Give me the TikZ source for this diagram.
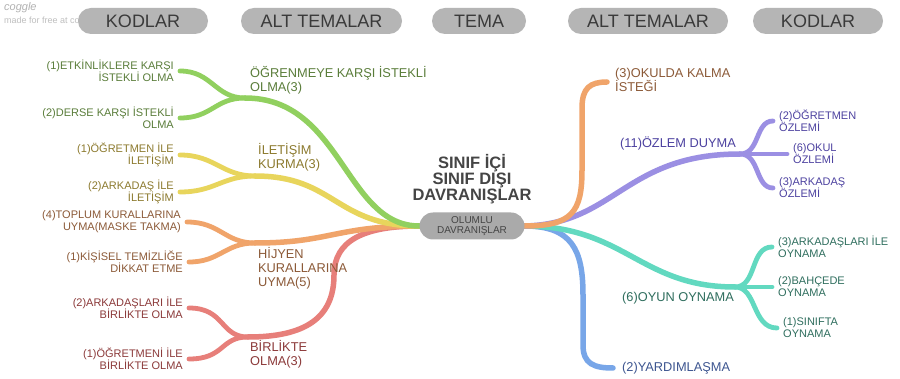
\documentclass[tikz,border=0pt]{standalone}
\usepackage{fontspec}
\setmainfont{Liberation Sans}
\definecolor{hdrfill}{HTML}{B5B5B5}
\definecolor{hdrtext}{HTML}{3A3A3A}
\definecolor{pillfill}{HTML}{AAAAAA}
\definecolor{titletext}{HTML}{454545}
\definecolor{lgreen}{HTML}{91D05F}\definecolor{tgreen}{HTML}{5A7D3A}
\definecolor{lyellow}{HTML}{E8D55C}\definecolor{tyellow}{HTML}{8C7A2E}
\definecolor{lorange}{HTML}{F0A46A}\definecolor{torange}{HTML}{8C5A38}
\definecolor{lred}{HTML}{E77F7A}\definecolor{tred}{HTML}{8C3A3A}
\definecolor{lpurple}{HTML}{9B8FE3}\definecolor{tpurple}{HTML}{4D42A0}
\definecolor{lteal}{HTML}{62D9C0}\definecolor{tteal}{HTML}{2F6E5E}
\definecolor{lblue}{HTML}{78A6E8}\definecolor{tblue}{HTML}{3D5590}
\pgfdeclarelayer{lines}
\pgfdeclarelayer{paper}
\pgfsetlayers{paper,lines,main}
\begin{document}
\begin{tikzpicture}[x=1pt,y=-1pt,
  hdr/.style={fill=hdrfill, rounded corners=13pt, minimum height=26pt, inner sep=0pt, text=hdrtext, font=\fontsize{18}{20}\selectfont},
  pill/.style={fill=pillfill, rounded corners=13.5pt, minimum width=105pt, minimum height=27pt, inner sep=0pt, text=titletext, align=center, font=\fontsize{10}{10.5}\selectfont},
  branch/.style={line width=5.5pt, line cap=round},
  sub/.style={line width=4.8pt, line cap=round},
  lleaf/.style={anchor=east, align=right, inner xsep=6pt, inner ysep=1pt, font=\fontsize{11}{12}\selectfont},
  rleaf/.style={anchor=west, align=left, inner xsep=6pt, inner ysep=1pt, font=\fontsize{11}{12}\selectfont},
  alt/.style={anchor=west, align=left, inner sep=1pt, font=\fontsize{12.8}{13.8}\selectfont}]
\useasboundingbox (0,0) rectangle (900,379);
\begin{pgfonlayer}{paper}
\fill[white] (0,0) rectangle (900,379);
\end{pgfonlayer}
% coggle watermark
\begin{pgfonlayer}{paper}
\node[anchor=west, inner sep=0pt, text=black!30, font=\itshape\fontsize{11}{11}\selectfont] (cg) at (4,8) {coggle};
\node[anchor=west, inner sep=0pt, text=black!25, font=\fontsize{9}{9}\selectfont] (cgm) at (4,21) {made for free at coggle.it};
\end{pgfonlayer}
% headers
\node[hdr, minimum width=130pt] (h1) at (143,21) {KODLAR};
\node[hdr, minimum width=161pt] (h2) at (321.5,21) {ALT TEMALAR};
\node[hdr, minimum width=94pt] (h3) at (479,21) {TEMA};
\node[hdr, minimum width=160pt] (h4) at (648,21) {ALT TEMALAR};
\node[hdr, minimum width=130pt] (h5) at (818,21) {KODLAR};
% center
\node[align=center, text=titletext, font=\bfseries\fontsize{16.5}{16}\selectfont] (title) at (472,179) {SINIF İÇİ\\SINIF DIŞI\\DAVRANIŞLAR};
% junctions
\coordinate (jg) at (245,98);
\coordinate (jy) at (255,176);
\coordinate (jo) at (255,243);
\coordinate (jr) at (248,337);
\coordinate (jp) at (740,154);
\coordinate (jt) at (735,287);
% left leaves
\node[lleaf, text=tgreen] (g1) at (180,71) {(1)ETKİNLİKLERE KARŞI\\İSTEKLİ OLMA};
\node[lleaf, text=tgreen] (g2) at (180,118) {(2)DERSE KARŞI İSTEKLİ\\OLMA};
\node[lleaf, text=tyellow] (y1) at (180,155) {(1)ÖĞRETMEN İLE\\İLETİŞİM};
\node[lleaf, text=tyellow] (y2) at (180,192) {(2)ARKADAŞ İLE\\İLETİŞİM};
\node[lleaf, text=torange] (o1) at (187,222) {(4)TOPLUM KURALLARINA\\UYMA(MASKE TAKMA)};
\node[lleaf, text=torange] (o2) at (189,262) {(1)KİŞİSEL TEMİZLİĞE\\DİKKAT ETME};
\node[lleaf, text=tred] (r1) at (189,308) {(2)ARKADAŞLARI İLE\\BİRLİKTE OLMA};
\node[lleaf, text=tred] (r2) at (189,359) {(1)ÖĞRETMENİ İLE\\BİRLİKTE OLMA};
% left alt labels
\node[alt, text=tgreen] (ag) at (249,80) {ÖĞRENMEYE KARŞI İSTEKLİ\\OLMA(3)};
\node[alt, text=tyellow] (ay) at (257,157) {İLETİŞİM\\KURMA(3)};
\node[alt, text=torange] (ao) at (257,268) {HİJYEN\\KURALLARINA\\UYMA(5)};
\node[alt, text=tred] (ar) at (249,354) {BİRLİKTE\\OLMA(3)};
% right alt labels
\node[alt, text=torange] (aok) at (614,80) {(3)OKULDA KALMA\\İSTEĞİ};
\node[alt, text=tpurple] (ap) at (619,143) {(11)ÖZLEM DUYMA};
\node[alt, text=tteal] (at) at (621,298) {(6)OYUN OYNAMA};
\node[alt, text=tblue] (ab) at (621,368) {(2)YARDIMLAŞMA};
% right leaves
\node[rleaf, text=tpurple] (p1) at (773,121) {(2)ÖĞRETMEN\\ÖZLEMİ};
\node[rleaf, text=tpurple] (p2) at (787,154) {(6)OKUL\\ÖZLEMİ};
\node[rleaf, text=tpurple] (p3) at (773,188) {(3)ARKADAŞ\\ÖZLEMİ};
\node[rleaf, text=tteal] (t1) at (772,247) {(3)ARKADAŞLARI İLE\\OYNAMA};
\node[rleaf, text=tteal] (t2) at (772,287) {(2)BAHÇEDE\\OYNAMA};
\node[rleaf, text=tteal] (t3) at (777,328) {(1)SINIFTA\\OYNAMA};
% end coordinates on right
\coordinate (eok) at (607,82);
\coordinate (eb) at (613,368);
% root pill
\node[pill] (root) at (472,226) {OLUMLU\\DAVRANIŞLAR};
\begin{pgfonlayer}{lines}
% left main branches
\draw[branch, lred] (root.west) .. controls (365,226) and (334,240) .. (334,275) .. controls (334,318) and (305,337) .. (jr);
\draw[branch, lorange] (root.west) .. controls (335,226) and (330,243) .. (jo);
\draw[branch, lyellow] (root.west) .. controls (335,226) and (335,176) .. (jy);
\draw[branch, lgreen] (root.west) .. controls (345,226) and (342,98) .. (jg);
% left subs
\draw[sub, lgreen] (jg) .. controls (215,98) and (212,71) .. (g1.east);
\draw[sub, lgreen] (jg) .. controls (215,98) and (212,118) .. (g2.east);
\draw[sub, lyellow] (jy) .. controls (222,176) and (215,155) .. (y1.east);
\draw[sub, lyellow] (jy) .. controls (222,176) and (215,192) .. (y2.east);
\draw[sub, lorange] (jo) .. controls (225,243) and (220,222) .. (o1.east);
\draw[sub, lorange] (jo) .. controls (225,243) and (220,262) .. (o2.east);
\draw[sub, lred] (jr) .. controls (220,337) and (225,308) .. (r1.east);
\draw[sub, lred] (jr) .. controls (220,337) and (225,359) .. (r2.east);
% right main branches
\draw[branch, lblue] (root.east) .. controls (572,226) and (583,250) .. (583,295) -- (583,345) .. controls (583,364) and (594,368) .. (eb);
\draw[branch, lteal] (root.east) .. controls (625,226) and (640,287) .. (jt);
\draw[branch, lpurple] (root.east) .. controls (615,224) and (625,154) .. (jp);
\draw[branch, lorange] (root.east) .. controls (572,226) and (582,212) .. (582,170) -- (582,108) .. controls (582,88) and (590,82) .. (eok);
% right subs
\draw[sub, lpurple] (jp) .. controls (760,154) and (755,121) .. (p1.west);
\draw[sub, lpurple] (jp) -- (p2.west);
\draw[sub, lpurple] (jp) .. controls (760,154) and (755,188) .. (p3.west);
\draw[sub, lteal] (jt) .. controls (757,287) and (750,247) .. (t1.west);
\draw[sub, lteal] (jt) -- (t2.west);
\draw[sub, lteal] (jt) .. controls (757,287) and (752,328) .. (t3.west);
\end{pgfonlayer}
\end{tikzpicture}
\end{document}
